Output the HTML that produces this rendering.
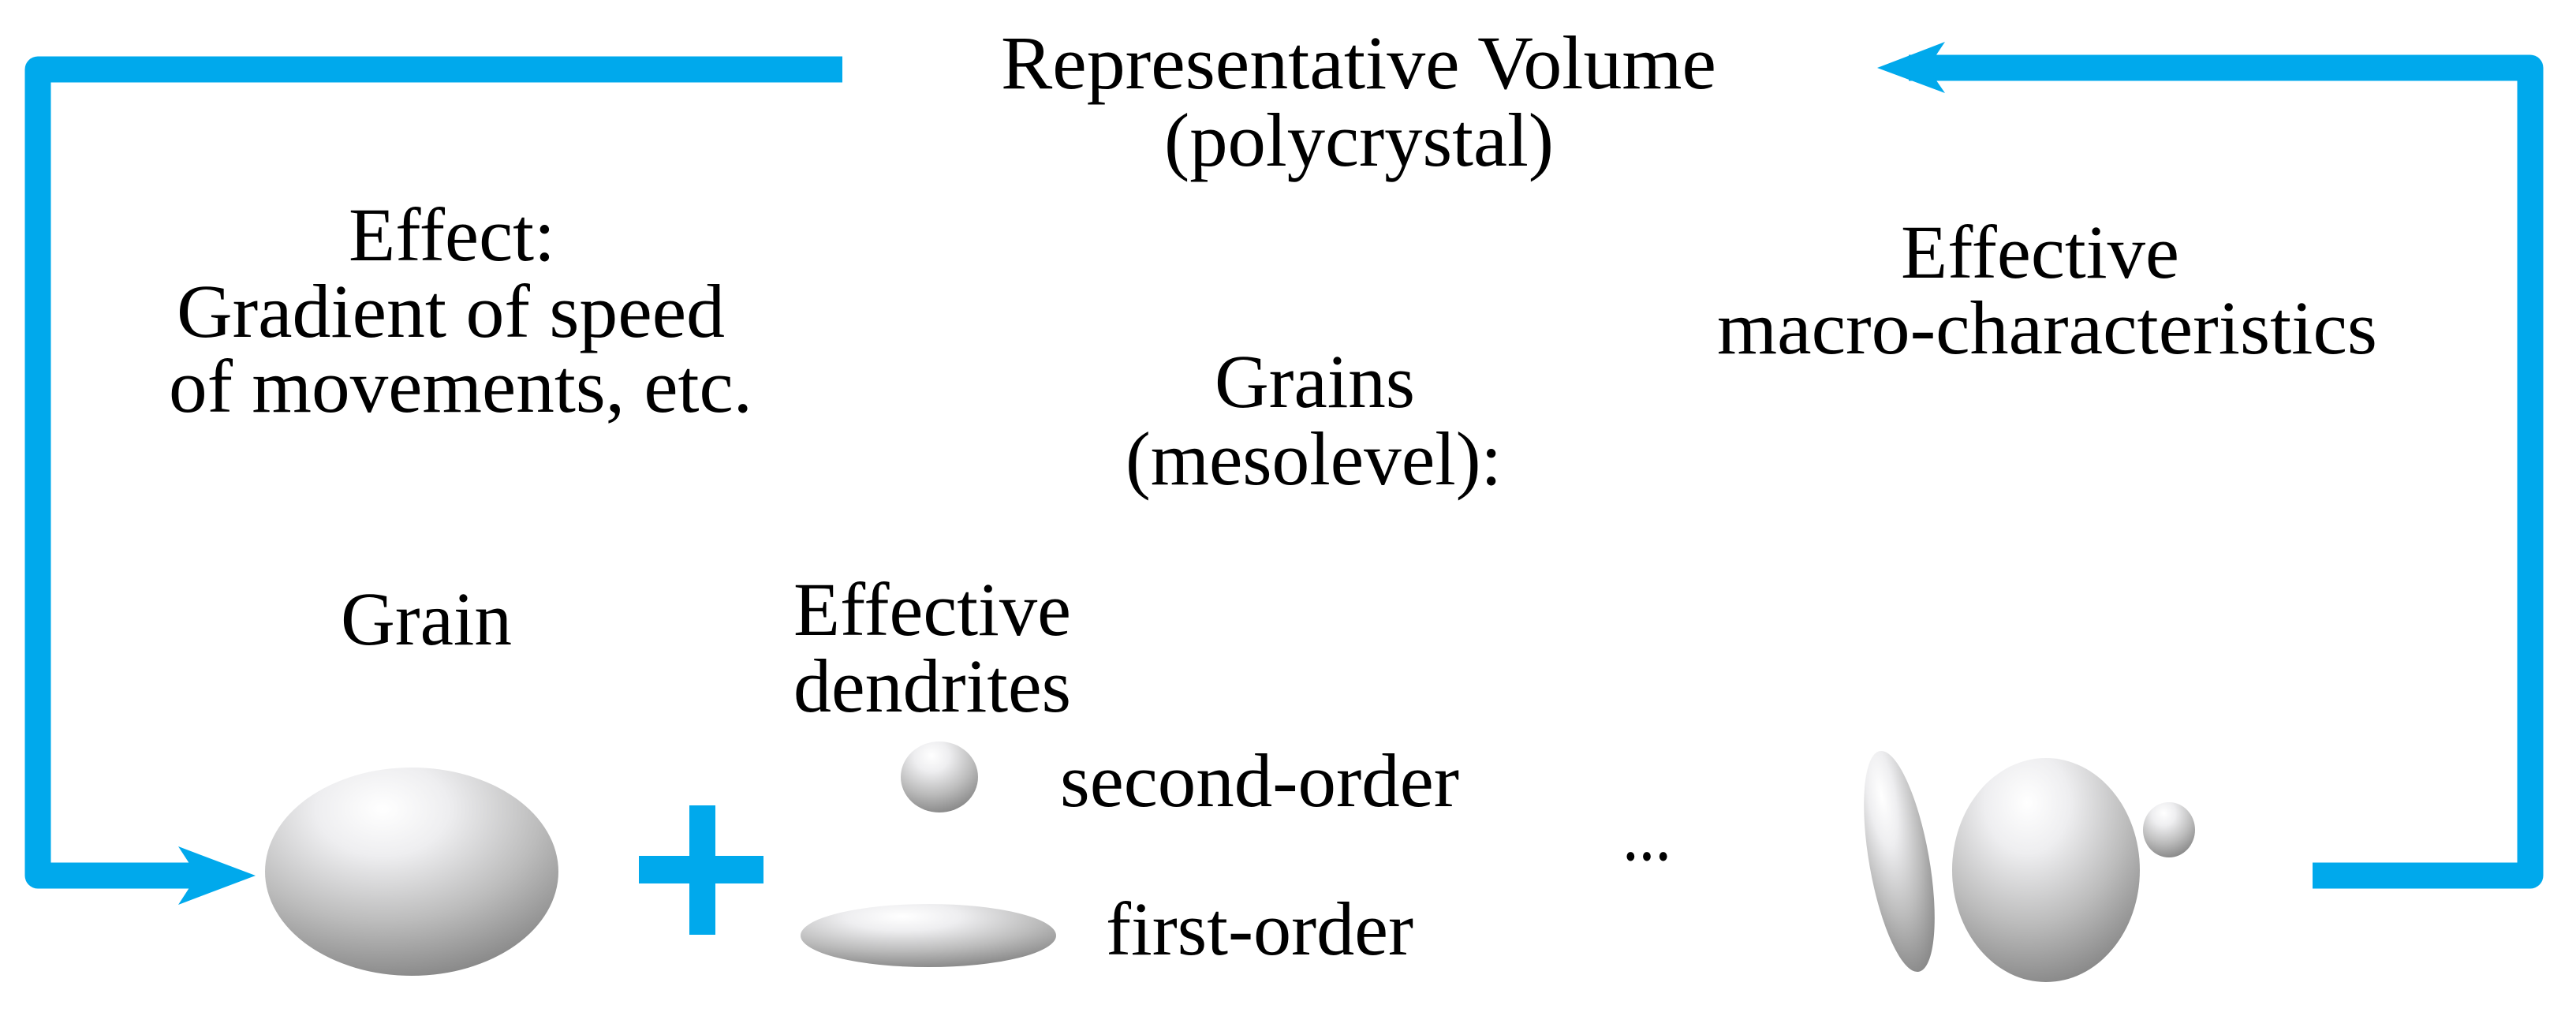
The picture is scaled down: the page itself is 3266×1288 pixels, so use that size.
<!DOCTYPE html>
<html><head><meta charset="utf-8"><style>
html,body{margin:0;padding:0;background:#fff;}
svg{display:block;}
svg text{font-family:"Liberation Serif","DejaVu Serif","Times New Roman",Times,serif;font-size:96px;fill:#000;}
</style></head><body>
<svg width="3266" height="1288" viewBox="0 0 3266 1288" xmlns="http://www.w3.org/2000/svg">
<defs>
<radialGradient id="g" cx="0.4" cy="0.2" r="0.9">
<stop offset="0" stop-color="#ffffff"/>
<stop offset="0.25" stop-color="#eeeef0"/>
<stop offset="0.6" stop-color="#bcbcbc"/>
<stop offset="1" stop-color="#7a7a7a"/>
</radialGradient>
</defs>
<g fill="none" stroke="#00a9ec" stroke-width="33" stroke-linejoin="round">
<path d="M1068,88 H48 V1110 H250"/>
<path d="M2420,86 H3208 V1110 H2932"/>
</g>
<polygon points="324,1110 226,1073 250,1110 226,1147" fill="#00a9ec"/>
<polygon points="2380,86 2466,53 2444,86 2466,118" fill="#00a9ec"/>
<rect x="874" y="1021" width="33" height="164" fill="#00a9ec"/>
<rect x="810" y="1085" width="158" height="35" fill="#00a9ec"/>

<ellipse cx="522" cy="1105" rx="186" ry="132" fill="url(#g)"/>
<ellipse cx="1191" cy="985" rx="49" ry="45" fill="url(#g)"/>
<ellipse cx="1177" cy="1186" rx="162" ry="40" fill="url(#g)"/>
<ellipse cx="2408" cy="1092" rx="38" ry="142" fill="url(#g)" transform="rotate(-10 2408 1092)"/>
<ellipse cx="2594" cy="1103" rx="119" ry="142" fill="url(#g)"/>
<ellipse cx="2750" cy="1052" rx="33" ry="35" fill="url(#g)"/>

<g lengthAdjust="spacingAndGlyphs">
<text x="1269" y="112" textLength="907" lengthAdjust="spacingAndGlyphs">Representative Volume</text>
<text x="1476" y="210" textLength="494" lengthAdjust="spacingAndGlyphs">(polycrystal)</text>
<text x="442" y="330" textLength="262" lengthAdjust="spacingAndGlyphs">Effect:</text>
<text x="224" y="427" textLength="695" lengthAdjust="spacingAndGlyphs">Gradient of speed</text>
<text x="214" y="522" textLength="740" lengthAdjust="spacingAndGlyphs">of movements, etc.</text>
<text x="1540" y="516" textLength="254" lengthAdjust="spacingAndGlyphs">Grains</text>
<text x="1427" y="614" textLength="477" lengthAdjust="spacingAndGlyphs">(mesolevel):</text>
<text x="2410" y="352" textLength="353" lengthAdjust="spacingAndGlyphs">Effective</text>
<text x="2177" y="448" textLength="837" lengthAdjust="spacingAndGlyphs">macro-characteristics</text>
<text x="432" y="817" textLength="217" lengthAdjust="spacingAndGlyphs">Grain</text>
<text x="1006" y="805" textLength="352" lengthAdjust="spacingAndGlyphs">Effective</text>
<text x="1006" y="902" textLength="352" lengthAdjust="spacingAndGlyphs">dendrites</text>
<text x="1344" y="1022" textLength="506" lengthAdjust="spacingAndGlyphs">second-order</text>
<text x="1402" y="1210" textLength="390" lengthAdjust="spacingAndGlyphs">first-order</text>
<text x="2057" y="1090" textLength="62" lengthAdjust="spacingAndGlyphs">...</text>
</g>
</svg>
</body></html>
